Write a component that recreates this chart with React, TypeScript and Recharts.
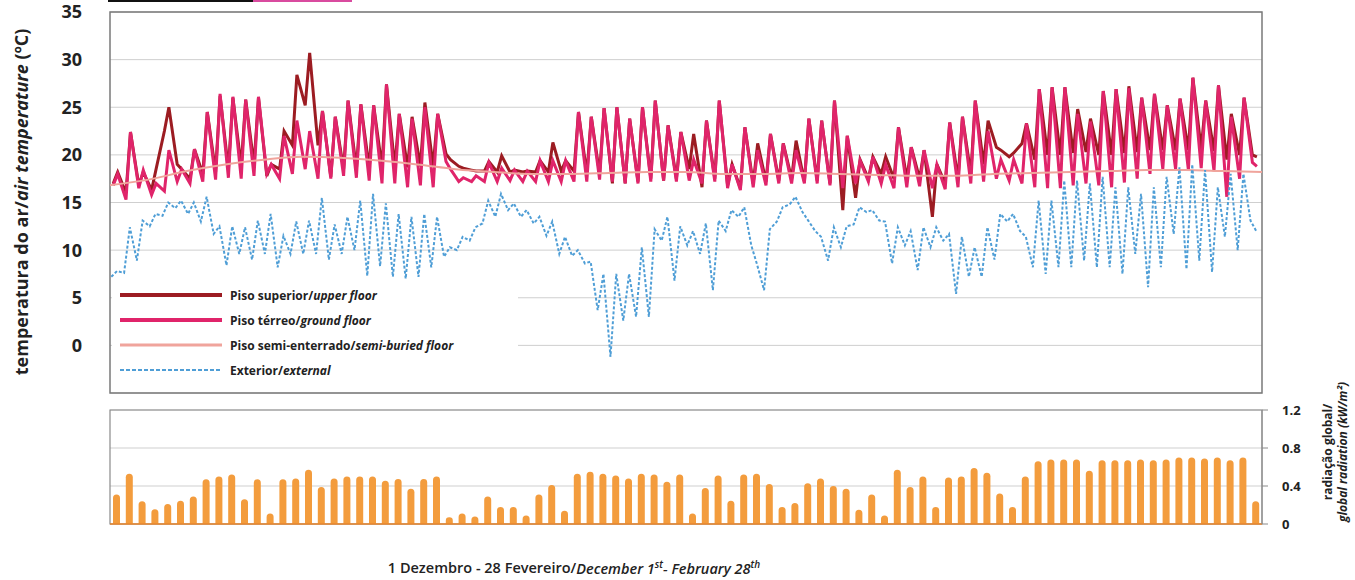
import {
  LineChart,
  Line,
  BarChart,
  Bar,
  XAxis,
  YAxis,
  CartesianGrid,
  ReferenceArea,
  ReferenceLine,
} from "recharts"

// temperatures, one low and one high reading per day (1 Dec .. 28 Feb)
const upperLo = [
  17.0, 16.0, 16.8, 16.3, 22.5, 19.0, 17.5, 18.0, 18.2, 18.5,
  18.8, 19.0, 17.8, 18.5, 21.0, 25.2, 21.0, 17.7, 18.5, 18.5,
  18.6, 18.7, 18.7, 18.7, 18.8, 18.8, 20.1, 18.8, 18.4, 18.3,
  18.2, 18.2, 18.2, 18.2, 18.2, 18.3, 18.3, 18.0, 18.0, 17.0,
  17.0, 17.2, 17.5, 17.3, 17.5, 18.5, 16.6, 17.5, 16.8, 16.5,
  17.0, 17.2, 17.3, 17.5, 17.2, 17.3, 17.0, 14.2, 15.5, 17.5,
  18.0, 17.5, 17.5, 17.5, 13.5, 17.0, 17.5, 18.0, 19.0, 20.8,
  19.8, 21.2, 19.5, 20.0, 20.0, 20.2, 20.3, 20.0, 20.0, 20.2,
  20.3, 20.5, 20.5, 20.5, 20.5, 20.6, 20.4, 19.5, 20.0, 20.0,
]
const upperHi = [
  18.2, 22.4, 18.2, 18.5, 25.0, 18.5, 20.6, 24.5, 26.2, 26.0,
  25.8, 26.0, 19.0, 22.5, 28.4, 30.7, 24.6, 24.0, 25.7, 25.3,
  25.2, 27.4, 24.3, 24.0, 25.5, 24.3, 19.5, 18.6, 18.3, 19.3,
  19.9, 18.4, 18.3, 19.4, 21.3, 19.4, 24.5, 24.0, 24.9, 25.0,
  23.8, 25.0, 25.7, 23.1, 22.4, 22.2, 23.6, 25.7, 19.0, 22.9,
  21.2, 22.2, 21.2, 21.5, 23.8, 23.6, 25.7, 22.0, 19.5, 19.8,
  19.8, 22.9, 20.8, 20.5, 19.0, 23.4, 24.0, 25.7, 23.6, 20.5,
  20.2, 23.3, 26.9, 27.1, 27.1, 24.8, 23.8, 26.7, 26.9, 27.2,
  26.0, 26.4, 25.2, 25.9, 28.1, 25.7, 27.3, 24.3, 26.0, 19.8,
]
const groundLo = [
  16.8, 15.3, 16.5, 15.8, 16.2, 17.2, 17.0, 17.2, 17.4, 17.6,
  17.5, 17.8, 18.0, 17.5, 18.0, 18.5, 17.5, 17.5, 17.8, 17.6,
  17.3, 17.0, 17.0, 16.6, 16.8, 16.6, 19.3, 17.2, 17.2, 17.2,
  17.2, 17.3, 17.2, 17.2, 17.2, 17.2, 17.2, 17.2, 17.4, 17.2,
  17.0, 17.0, 17.2, 17.3, 17.2, 17.3, 17.0, 17.2, 16.5, 16.3,
  16.6, 16.8, 17.0, 17.0, 17.0, 17.0, 16.8, 16.5, 17.0, 17.2,
  17.0, 16.5, 16.6, 16.7, 16.5, 16.4, 16.6, 17.0, 17.2, 17.5,
  17.3, 17.0, 16.6, 16.5, 16.5, 16.8, 17.0, 16.8, 16.6, 17.1,
  17.5, 18.0, 18.5, 18.5, 18.4, 18.6, 18.3, 15.6, 17.5, 19.2,
]
const groundHi = [
  18.0, 22.4, 18.4, 17.0, 20.5, 18.5, 20.6, 24.5, 26.4, 26.1,
  25.8, 26.1, 19.0, 22.0, 23.6, 22.5, 24.6, 24.0, 25.7, 25.3,
  25.2, 27.4, 24.3, 23.8, 25.0, 24.3, 18.5, 17.6, 17.8, 19.2,
  18.6, 18.4, 18.3, 19.4, 19.4, 19.4, 24.5, 24.0, 24.9, 25.0,
  23.8, 25.0, 25.7, 23.1, 22.4, 19.5, 23.6, 25.7, 19.0, 22.9,
  20.5, 22.2, 21.2, 20.5, 23.8, 23.6, 25.7, 22.0, 19.4, 19.8,
  19.0, 22.9, 20.8, 20.5, 19.0, 23.4, 24.0, 25.7, 22.5, 19.5,
  19.5, 23.3, 26.9, 27.1, 27.1, 24.3, 23.5, 26.7, 26.9, 27.0,
  26.0, 26.4, 25.2, 25.9, 28.1, 25.7, 27.3, 24.0, 26.0, 18.8,
]
// semi-buried floor, every 3 days
const semiBuried = [
  16.8, 17.4, 18.3, 19.0, 19.5, 19.8, 19.7, 19.4, 19.0, 18.5,
  18.2, 18.0, 18.0, 18.1, 18.2, 18.2, 18.0, 18.0, 18.1, 18.0,
  17.9, 17.8, 17.8, 18.0, 18.1, 18.2, 18.3, 18.4, 18.4, 18.3,
  18.2,
]
const extLo = [
  7.2, 7.6, 8.9, 12.5, 13.6, 14.4, 13.8, 13.0, 11.7, 8.4,
  9.6, 9.0, 9.6, 8.2, 9.6, 9.6, 9.6, 9.0, 9.6, 10.0,
  7.3, 8.3, 7.2, 7.0, 7.2, 8.2, 9.3, 10.0, 11.0, 12.8,
  13.5, 14.2, 13.5, 12.8, 11.5, 9.6, 9.4, 8.6, 3.7, -1.2,
  2.6, 3.0, 3.0, 11.0, 6.8, 10.5, 9.6, 5.8, 12.0, 13.5,
  10.5, 5.8, 13.0, 14.8, 14.0, 12.0, 8.9, 10.3, 12.7, 14.0,
  13.1, 8.6, 10.5, 7.9, 10.3, 11.0, 5.4, 7.2, 7.2, 9.0,
  13.0, 12.0, 8.2, 7.5, 8.2, 8.2, 8.9, 8.2, 8.2, 7.5,
  9.6, 6.1, 8.2, 11.7, 8.0, 8.9, 7.7, 11.4, 10.0, 13.1,
]
const extHi = [
  7.8, 12.4, 13.1, 13.8, 15.0, 15.2, 15.0, 15.6, 12.5, 12.5,
  12.4, 13.1, 13.8, 11.5, 13.0, 13.1, 15.5, 12.7, 13.5, 15.2,
  15.9, 14.9, 13.8, 13.5, 13.8, 13.5, 10.3, 11.4, 12.4, 15.2,
  15.9, 14.9, 14.2, 13.5, 13.0, 11.4, 10.0, 8.8, 7.5, 7.5,
  7.5, 10.3, 12.2, 13.5, 12.5, 12.0, 12.8, 13.1, 14.2, 14.5,
  8.5, 12.2, 14.5, 15.6, 13.1, 11.4, 12.4, 12.5, 14.5, 14.2,
  13.0, 12.4, 12.0, 12.4, 12.4, 11.7, 11.4, 10.3, 12.4, 13.8,
  13.8, 11.4, 15.2, 15.2, 17.3, 17.3, 17.0, 17.7, 16.6, 16.6,
  15.9, 16.6, 17.7, 18.7, 19.0, 18.4, 16.6, 18.0, 18.0, 12.0,
]
// daily peak of global radiation (kW/m2)
const radiation = [
  0.31, 0.53, 0.24, 0.155, 0.21, 0.245, 0.29, 0.47, 0.5, 0.52,
  0.26, 0.47, 0.11, 0.47, 0.48, 0.57, 0.39, 0.48, 0.5, 0.5,
  0.5, 0.455, 0.475, 0.37, 0.475, 0.5, 0.07, 0.11, 0.08, 0.29,
  0.18, 0.18, 0.09, 0.31, 0.41, 0.14, 0.53, 0.55, 0.53, 0.51,
  0.48, 0.53, 0.52, 0.445, 0.52, 0.11, 0.38, 0.51, 0.245, 0.52,
  0.53, 0.42, 0.18, 0.22, 0.43, 0.48, 0.4, 0.37, 0.15, 0.31,
  0.09, 0.57, 0.39, 0.5, 0.18, 0.49, 0.5, 0.59, 0.54, 0.32,
  0.18, 0.5, 0.66, 0.68, 0.68, 0.68, 0.56, 0.67, 0.67, 0.67,
  0.68, 0.67, 0.68, 0.7, 0.7, 0.69, 0.7, 0.67, 0.7, 0.24,
]
const tempTicks = [-5, 0, 5, 10, 15, 20, 25, 30, 35]
const radTicks = [0, 0.4, 0.8, 1.2]

const FONT = "'Open Sans', sans-serif"
const C_UPPER = "#9c1c22"
const C_GROUND = "#e0246a"
const C_SEMI = "#f0a49c"
const C_EXT = "#4f9ed6"
const C_RAD = "#f39c3d"

const daily = (lo: number[], hi: number[], tLo: number, tHi: number) =>
  lo.flatMap((v, k) => [
    { t: k + tLo, v },
    { t: k + tHi, v: hi[k] },
  ])

const upperData = daily(upperLo, upperHi, 0.25, 0.6)
const groundData = daily(groundLo, groundHi, 0.25, 0.6)
const extData = daily(extLo, extHi, 0.1, 0.55)
const semiData = semiBuried.map((v, i) => ({ t: i * 3, v }))
const radData = radiation.map((rad, i) => ({ day: i + 1, rad }))

const legendItems = [
  { pt: "Piso superior/", en: "upper floor", color: C_UPPER, w: 4, dash: undefined },
  { pt: "Piso térreo/", en: "ground floor", color: C_GROUND, w: 4, dash: undefined },
  { pt: "Piso semi-enterrado/", en: "semi-buried floor", color: C_SEMI, w: 3, dash: undefined },
  { pt: "Exterior/", en: "external", color: C_EXT, w: 2, dash: "4 2" },
]

function App() {
  return (
    <div
      style={{
        position: "absolute",
        left: 0,
        top: 0,
        width: 1355,
        height: 580,
        background: "#fff",
        fontFamily: FONT,
        overflow: "hidden",
      }}
    >
      <div style={{ position: "absolute", left: 108, top: 0, width: 145, height: 2, background: "#111" }} />
      <div style={{ position: "absolute", left: 253, top: 0, width: 99, height: 2, background: "#d94b9f" }} />

      <div style={{ position: "absolute", left: 0, top: 0 }}>
        <LineChart
          width={1355}
          height={400}
          margin={{ top: 12, right: 93, bottom: 7, left: 50 }}
        >
          <CartesianGrid vertical={false} stroke="#cfcfcf" />
          <XAxis type="number" dataKey="t" domain={[0, 90]} hide />
          <YAxis
            width={60}
            domain={[-5, 35]}
            ticks={tempTicks}
            axisLine={false}
            tickLine={false}
            tickSize={0}
            tickMargin={28}
            tick={{ fontSize: 18, fontWeight: 700, fill: "#222", fontFamily: FONT }}
          />
          <Line
            data={upperData}
            dataKey="v"
            type="linear"
            stroke={C_UPPER}
            strokeWidth={3}
            dot={false}
            isAnimationActive={false}
          />
          <Line
            data={groundData}
            dataKey="v"
            type="linear"
            stroke={C_GROUND}
            strokeWidth={3}
            dot={false}
            isAnimationActive={false}
          />
          <Line
            data={semiData}
            dataKey="v"
            type="monotone"
            stroke={C_SEMI}
            strokeWidth={2}
            dot={false}
            isAnimationActive={false}
          />
          <Line
            data={extData}
            dataKey="v"
            type="linear"
            stroke={C_EXT}
            strokeWidth={2}
            strokeDasharray="3 2"
            dot={false}
            isAnimationActive={false}
          />
          <ReferenceArea
            x1={0}
            x2={90}
            y1={-5}
            y2={35}
            fill="none"
            stroke="#7a7a7a"
            strokeWidth={1.5}
          />
        </LineChart>
      </div>

      {/* legend */}
      <div
        style={{
          position: "absolute",
          left: 112,
          top: 283,
          width: 406,
          height: 108,
          background: "#fff",
        }}
      >
        {legendItems.map((it, i) => (
          <div
            key={it.en}
            style={{
              position: "absolute",
              left: 0,
              top: 3 + i * 25,
              height: 18,
              display: "flex",
              alignItems: "center",
            }}
          >
            <svg width={118} height={18}>
              <line
                x1={8}
                x2={110}
                y1={9}
                y2={9}
                stroke={it.color}
                strokeWidth={it.w}
                strokeDasharray={it.dash}
              />
            </svg>
            <span style={{ fontSize: 12, fontWeight: 700, color: "#222", whiteSpace: "nowrap" }}>
              {it.pt}
              <i>{it.en}</i>
            </span>
          </div>
        ))}
      </div>

      <div
        style={{
          position: "absolute",
          left: 21,
          top: 202,
          transform: "translate(-50%, -50%) rotate(-90deg)",
          whiteSpace: "nowrap",
          fontSize: 18,
          fontWeight: 700,
          color: "#222",
        }}
      >
        temperatura do ar/<i>air temperature</i> (ºC)
      </div>

      <div style={{ position: "absolute", left: 0, top: 400 }}>
        <BarChart
          width={1355}
          height={140}
          data={radData}
          margin={{ top: 10, right: 33, bottom: 16, left: 110 }}
        >
          <CartesianGrid vertical={false} stroke="#cfcfcf" />
          <XAxis dataKey="day" hide />
          <YAxis
            orientation="right"
            width={60}
            domain={[0, 1.2]}
            ticks={radTicks}
            axisLine={{ stroke: "#8a8a8a" }}
            tickLine={{ stroke: "#8a8a8a" }}
            tickSize={6}
            tickMargin={14}
            tickFormatter={(v: number) => (v === 0 ? "0" : v.toFixed(1))}
            tick={{ fontSize: 13, fontWeight: 700, fill: "#222", fontFamily: FONT }}
          />
          <ReferenceArea y1={0} y2={1.2} fill="none" stroke="#8a8a8a" strokeWidth={1.2} />
          <Bar
            dataKey="rad"
            fill={C_RAD}
            barSize={7}
            radius={[3.5, 3.5, 0, 0]}
            isAnimationActive={false}
          />
          <ReferenceLine y={0} stroke="#e8862c" strokeWidth={1.5} />
        </BarChart>
      </div>

      <div
        style={{
          position: "absolute",
          left: 1335,
          top: 452,
          transform: "translate(-50%, -50%) rotate(-90deg)",
          whiteSpace: "nowrap",
          fontSize: 12,
          fontWeight: 700,
          color: "#222",
          lineHeight: "15px",
          textAlign: "center",
        }}
      >
        radiação global/
        <br />
        <i>global radiation (kW/m²)</i>
      </div>

      <div
        style={{
          position: "absolute",
          left: 574,
          top: 567,
          transform: "translate(-50%, -50%)",
          whiteSpace: "nowrap",
          fontSize: 14.5,
          fontWeight: 600,
          color: "#222",
        }}
      >
        1 Dezembro - 28 Fevereiro/
        <i>
          December 1<sup style={{ fontSize: 10 }}>st</sup>- February 28
          <sup style={{ fontSize: 10 }}>th</sup>
        </i>
      </div>
    </div>
  )
}

export default App
